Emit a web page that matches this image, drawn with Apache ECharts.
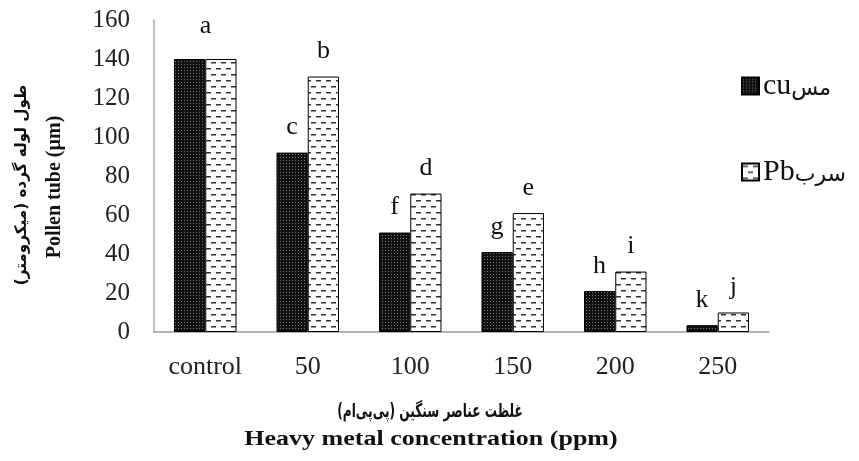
<!DOCTYPE html>
<html><head><meta charset="utf-8">
<script src="https://cdn.jsdelivr.net/npm/echarts@6/dist/echarts.min.js"></script>
<style>html,body{margin:0;padding:0;background:#fff}#c{width:859px;height:461px}</style>
</head><body><div id="c"></div>
<script>
const categories = ['control', '50', '100', '150', '200', '250'];
const cuValues = [140, 92, 51, 41, 21, 3.5];
const pbValues = [140, 131, 71, 61, 31, 10];
const cuLetters = ['a', 'c', 'f', 'g', 'h', 'k'];
const pbLetters = ['', 'b', 'd', 'e', 'i', 'j'];
const seriesNames = ['cu', 'Pb'];
const seriesNamesFa = ['مس', 'سرب'];

function makeCuPattern() {
  const c = document.createElement('canvas');
  c.width = 3; c.height = 3;
  const g = c.getContext('2d');
  g.fillStyle = '#111'; g.fillRect(0, 0, 3, 3);
  g.fillStyle = '#777'; g.fillRect(1, 1, 1, 1);
  return c;
}
function makePbPattern() {
  const c = document.createElement('canvas');
  c.width = 10; c.height = 12;
  const g = c.getContext('2d');
  g.fillStyle = '#fff'; g.fillRect(0, 0, 10, 12);
  g.fillStyle = '#333';
  g.fillRect(1, 2, 5, 1.5);
  g.fillRect(6, 8, 4, 1.5);
  g.fillRect(0, 8, 1, 1.5);
  return c;
}
const cuFill = { image: makeCuPattern(), repeat: 'repeat' };
const pbFill = { image: makePbPattern(), repeat: 'repeat' };

const serif = '"Liberation Serif", "Times New Roman", "DejaVu Serif", serif';
const labelStyle = { show: true, position: 'top', distance: 12, fontFamily: serif, fontSize: 26, color: '#111' };

const cuData = cuValues.map((v, i) => {
  const d = { value: v, label: Object.assign({}, labelStyle, { formatter: cuLetters[i] }) };
  if (i === 0) d.label.offset = [16, -8];
  return d;
});
const pbData = pbValues.map((v, i) => ({ value: v, label: Object.assign({}, labelStyle, { show: pbLetters[i] !== '', formatter: pbLetters[i] || '' }) }));

const chart = echarts.init(document.getElementById('c'), null, { renderer: 'canvas' });
chart.setOption({
  animation: false,
  backgroundColor: '#fff',
  grid: { left: 154, right: 90, top: 20, bottom: 129, containLabel: false },
  legend: {
    orient: 'vertical', left: 736, top: 66, itemGap: 56,
    itemWidth: 17, itemHeight: 17, icon: 'rect',
    formatter: name => '{en|' + name + '}{fa|' + seriesNamesFa[seriesNames.indexOf(name)] + '}',
    textStyle: {
      padding: [0, 0, 0, -1],
      rich: {
        en: { fontFamily: serif, fontSize: 30, color: '#111' },
        fa: { fontFamily: '"DejaVu Sans", sans-serif', fontSize: 22, color: '#111', padding: [6, 0, 0, 0] }
      }
    },
    data: seriesNames
  },
  xAxis: {
    type: 'category', data: categories,
    axisLine: { lineStyle: { color: '#999', width: 1.5 } },
    axisTick: { show: false },
    axisLabel: { fontFamily: serif, fontSize: 26, color: '#222', margin: 22 }
  },
  yAxis: {
    type: 'value', min: 0, max: 160, interval: 20,
    axisLine: { show: true, lineStyle: { color: '#aaa', width: 1.5 } },
    axisTick: { show: false },
    splitLine: { show: false },
    axisLabel: { fontFamily: serif, fontSize: 25, color: '#222', margin: 24 }
  },
  series: [
    { name: seriesNames[0], type: 'bar', data: cuData, barGap: '0%', barCategoryGap: '39%',
      itemStyle: { color: cuFill, borderColor: '#000', borderWidth: 1 } },
    { name: seriesNames[1], type: 'bar', data: pbData,
      itemStyle: { color: pbFill, borderColor: '#000', borderWidth: 1 } }
  ],
  graphic: [
    { type: 'text', x: 430, y: 412, scaleX: 0.64, style: { text: 'غلظت عناصر سنگین (پی‌پی‌ام)', x: 0, y: 0, align: 'center', verticalAlign: 'middle', font: 'bold 19px "DejaVu Sans", sans-serif', fill: '#111' } },
    { type: 'text', x: 431, y: 440, scaleX: 1.3, style: { text: 'Heavy metal concentration (ppm)', x: 0, y: 0, align: 'center', verticalAlign: 'middle', font: 'bold 20px ' + serif, fill: '#111' } },
    { type: 'text', x: 22, y: 185, rotation: Math.PI / 2, scaleX: 0.95, style: { text: 'طول لوله گرده (میکرومتر)', x: 0, y: 0, align: 'center', verticalAlign: 'middle', font: 'bold 16px "DejaVu Sans", sans-serif', fill: '#111' } },
    { type: 'text', x: 55, y: 187, rotation: Math.PI / 2, style: { text: 'Pollen tube (µm)', x: 0, y: 0, align: 'center', verticalAlign: 'middle', font: 'bold 20px ' + serif, fill: '#111' } }
  ]
});
</script></body></html>
